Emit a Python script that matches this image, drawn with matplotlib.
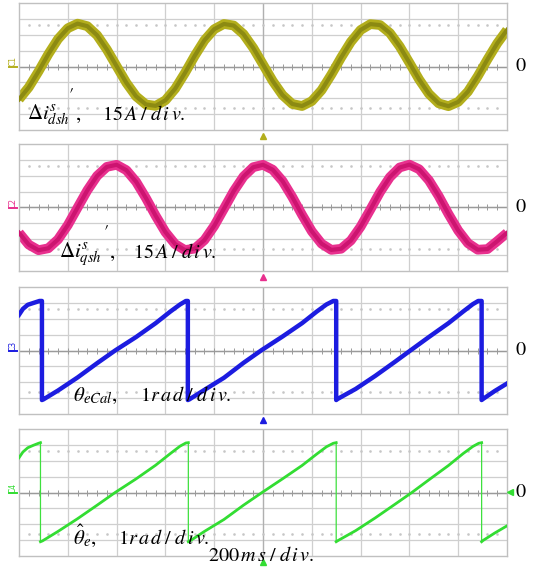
import matplotlib
matplotlib.use("Agg")
import matplotlib.pyplot as plt
import numpy as np

plt.rcParams['mathtext.fontset'] = 'stix'
plt.rcParams['font.family'] = ['STIXGeneral', 'DejaVu Serif']

W, H = 537, 570

# ---- traces (time in divisions, amplitude in divisions) ----
t_sine = [round(0.2 * k, 1) for k in range(51)]

d_current = [-2.07, -1.31, -0.31, 0.77, 1.73, 2.41, 2.70, 2.54, 1.97, 1.07,
             0.02, -1.03, -1.88, -2.39, -2.48, -2.13, -1.40, -0.41, 0.67, 1.65,
             2.35, 2.68, 2.58, 2.04, 1.17, 0.13, -0.92, -1.80, -2.36, -2.49,
             -2.18, -1.49, -0.51, 0.56, 1.55, 2.30, 2.67, 2.61, 2.11, 1.27,
             0.24, -0.82, -1.72, -2.32, -2.50, -2.23, -1.58, -0.62, 0.45, 1.46,
             2.30]

q_current = [-1.59, -2.34, -2.69, -2.57, -2.01, -1.11, -0.01, 1.08, 1.99, 2.56,
             2.69, 2.35, 1.62, 0.60, -0.52, -1.55, -2.31, -2.68, -2.59, -2.05,
             -1.16, -0.07, 1.03, 1.95, 2.54, 2.69, 2.38, 1.67, 0.66, -0.46,
             -1.50, -2.28, -2.67, -2.60, -2.08, -1.21, -0.13, 0.98, 1.91, 2.52,
             2.70, 2.41, 1.71, 0.72, -0.41, -1.45, -2.25, -2.66, -2.62, -2.12,
             -1.60]

theta_cal_t = [0.00, 0.08, 0.18, 0.32, 0.42, 0.47,
               0.47, 0.50, 0.80, 1.20, 1.60, 1.97, 2.40, 2.80, 3.10, 3.30, 3.42, 3.46,
               3.46, 3.49, 3.80, 4.20, 4.60, 4.97, 5.40, 5.80, 6.10, 6.30, 6.44, 6.50,
               6.50, 6.53, 6.90, 7.30, 7.70, 8.02, 8.40, 8.80, 9.10, 9.30, 9.41, 9.48,
               9.48, 9.51, 9.75, 10.0]
theta_cal_v = [2.25, 2.62, 2.88, 3.02, 3.12, 3.12,
               -3.12, -3.08, -2.52, -1.70, -0.80, 0.00, 0.85, 1.72, 2.45, 2.90, 3.12, 3.12,
               -3.12, -3.08, -2.48, -1.72, -0.78, 0.02, 0.88, 1.72, 2.45, 2.90, 3.12, 3.12,
               -3.12, -3.05, -2.42, -1.60, -0.72, 0.00, 0.85, 1.72, 2.45, 2.92, 3.12, 3.12,
               -3.12, -3.05, -2.55, -2.08]

theta_est_t = [0.00, 0.08, 0.18, 0.30, 0.40, 0.44,
               0.44, 0.48, 0.80, 1.20, 1.60, 1.97, 2.40, 2.80, 3.10, 3.30, 3.42, 3.47,
               3.47, 3.50, 3.80, 4.20, 4.60, 4.98, 5.40, 5.80, 6.10, 6.30, 6.44, 6.50,
               6.50, 6.53, 6.90, 7.30, 7.70, 8.05, 8.40, 8.80, 9.10, 9.30, 9.42, 9.48,
               9.48, 9.51, 9.75, 10.0]
theta_est_v = [2.19, 2.55, 2.82, 2.98, 3.10, 3.14,
               -3.10, -3.05, -2.45, -1.65, -0.80, 0.00, 0.86, 1.72, 2.45, 2.92, 3.12, 3.14,
               -3.10, -3.06, -2.45, -1.70, -0.80, 0.00, 0.86, 1.70, 2.42, 2.88, 3.10, 3.14,
               -3.10, -3.04, -2.40, -1.60, -0.75, 0.00, 0.80, 1.70, 2.45, 2.90, 3.10, 3.14,
               -3.10, -3.02, -2.55, -2.10]

zero_label = "0"
time_label = r"$\mathrm{200}\,m\,s\;/\;d\,i\,v.$"

fig = plt.figure(figsize=(W / 100, H / 100), dpi=100)
fig.patch.set_facecolor('white')

panel_tops = [3, 144, 287, 429]
panel_h = 127
left_px, right_px = 19, 507

axes = []
for top in panel_tops:
    ax = fig.add_axes([left_px / W, 1 - (top + panel_h) / H,
                       (right_px - left_px) / W, panel_h / H])
    ax.set_xlim(0, 10)
    ax.set_ylim(-4, 4)
    ax.set_xticks([])
    ax.set_yticks([])
    for s in ax.spines.values():
        s.set_color('#c0c0c0')
        s.set_linewidth(1.0)
    # graticule
    for gx in range(1, 10):
        ax.axvline(gx, color='#cfcfcf', lw=0.9, zorder=0)
    for gy in range(-3, 4):
        ax.axhline(gy, color='#cfcfcf', lw=0.9, zorder=0)
    ax.axhline(0, color='#9a9a9a', lw=1.0, zorder=0.5)
    ax.axvline(5, color='#b0b0b0', lw=0.9, zorder=0.5)
    minor = np.arange(0.2, 10, 0.2)
    ax.plot(minor, np.zeros_like(minor), ls='none', marker='|', ms=4,
            mew=0.7, color='#9a9a9a', zorder=0.6)
    for dy in (2.6, -2.6):
        ax.plot(minor, np.full_like(minor, dy), ls='none', marker='s', ms=0.8,
                color='#c6c6c6', zorder=0.6)
    axes.append(ax)

ax1, ax2, ax3, ax4 = axes

# channel 1: d-axis current band
ax1.plot(t_sine, d_current, color='#b3ae1c', lw=7.0, solid_capstyle='butt', zorder=2)
ax1.plot(t_sine, d_current, color='#8c8a12', lw=3.0, zorder=3)

# channel 2: q-axis current band
ax2.plot(t_sine, q_current, color='#e8308e', lw=7.0, solid_capstyle='butt', zorder=2)
ax2.plot(t_sine, q_current, color='#cc1470', lw=3.0, zorder=3)


def ramps(t, v):
    segs, cur_t, cur_v = [], [t[0]], [v[0]]
    for i in range(1, len(t)):
        if t[i] == t[i - 1]:
            segs.append((cur_t, cur_v))
            cur_t, cur_v = [], []
        cur_t.append(t[i])
        cur_v.append(v[i])
    segs.append((cur_t, cur_v))
    return segs


# channel 3: calculated angle
ax3.plot(theta_cal_t, theta_cal_v, color='#1c1ce0', lw=3.2, zorder=3)

# channel 4: estimated angle
ax4.plot(theta_est_t, theta_est_v, color='#3ee03e', lw=0.9, zorder=2)
for st, sv in ramps(theta_est_t, theta_est_v):
    ax4.plot(st, sv, color='#33dd33', lw=2.0, zorder=3)


def ftext(x, y, s, **kw):
    fig.text(x / W, 1 - y / H, s, **kw)


# channel markers on the left edge
ch_colors = ['#b3ae1c', '#e8308e', '#1c1ce0', '#33dd33']
ch_names = ['C1', 'C2', 'C3', 'C4']
for top, c, name in zip(panel_tops, ch_colors, ch_names):
    cy = top + panel_h / 2
    ftext(13.5, cy - 5, name, color=c, fontsize=5.5, rotation=90,
          ha='center', va='center', family='DejaVu Sans')
    fig.add_artist(plt.Line2D([9 / W, 17 / W], [1 - cy / H, 1 - cy / H],
                              color=c, lw=1.4))
    # zero reference label
    ftext(515, cy, zero_label, fontsize=14.5, ha='left', va='center')

# trigger markers below each panel
for top, c in zip(panel_tops, ch_colors):
    y = top + panel_h + 6
    fig.add_artist(plt.Line2D([263 / W], [1 - y / H], marker='^', ms=4.5,
                              color=c, ls='none'))
fig.add_artist(plt.Line2D([510 / W], [1 - 492 / H], marker='<', ms=5,
                          color='#33dd33', ls='none'))

# trace labels
ftext(27, 120, r"$\Delta i_{dsh}^{s}$", fontsize=15, va='baseline')
ftext(69, 99, "\u2032", fontsize=13, va='baseline')
ftext(76, 120, ",", fontsize=15, va='baseline')
ftext(102, 120, r"$\mathrm{15}\,A\;/\;d\,i\,v.$", fontsize=14.5, va='baseline')

ftext(59, 258, r"$\Delta i_{qsh}^{s}$", fontsize=15, va='baseline')
ftext(104, 236, "\u2032", fontsize=13, va='baseline')
ftext(110, 258, ",", fontsize=15, va='baseline')
ftext(133, 258, r"$\mathrm{15}\,A\;/\;d\,i\,v.$", fontsize=14.5, va='baseline')

ftext(73, 401, r"$\theta_{eCal},$", fontsize=15, va='baseline')
ftext(140, 401, r"$\mathrm{1}r\,a\,d\;/\;d\,i\,v.$", fontsize=14.5, va='baseline')

ftext(73, 544, r"$\hat{\theta}_{e},$", fontsize=15, va='baseline')
ftext(118, 544, r"$\mathrm{1}r\,a\,d\;/\;d\,i\,v.$", fontsize=14.5, va='baseline')

ftext(208, 561, time_label, fontsize=14.5, va='baseline')

fig.savefig("out.png", dpi=100, facecolor='white')
